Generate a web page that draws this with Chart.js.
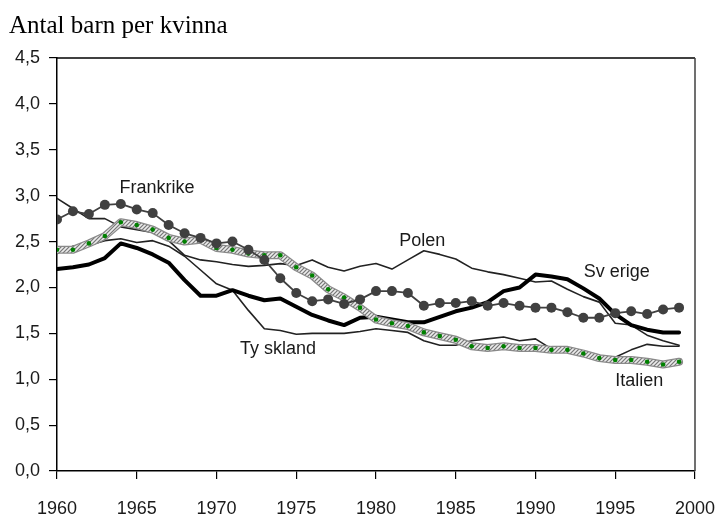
<!DOCTYPE html>
<html>
<head>
<meta charset="utf-8">
<script src="https://cdn.jsdelivr.net/npm/chart.js@4.4.1/dist/chart.umd.min.js"></script>
<style>
  html, body { margin: 0; padding: 0; background: #fff; }
  #wrap { position: relative; width: 716px; height: 519px; }
</style>
</head>
<body>
<div id="wrap"><canvas id="c" width="716" height="519"></canvas></div>
<script>
const title = "Antal barn per kvinna";
const years = [1960,1961,1962,1963,1964,1965,1966,1967,1968,1969,
               1970,1971,1972,1973,1974,1975,1976,1977,1978,1979,
               1980,1981,1982,1983,1984,1985,1986,1987,1988,1989,
               1990,1991,1992,1993,1994,1995,1996,1997,1998,1999];
const frankrike = [2.74,2.83,2.80,2.90,2.91,2.85,2.81,2.68,2.59,2.54,
                   2.48,2.50,2.41,2.30,2.10,1.94,1.85,1.87,1.82,1.87,
                   1.96,1.96,1.94,1.80,1.83,1.83,1.85,1.80,1.83,1.80,
                   1.78,1.78,1.73,1.67,1.67,1.72,1.74,1.71,1.76,1.78];
const italien = [2.41,2.41,2.48,2.56,2.71,2.68,2.63,2.54,2.50,2.52,
                 2.43,2.41,2.37,2.35,2.35,2.22,2.13,1.98,1.89,1.78,
                 1.65,1.61,1.58,1.51,1.47,1.43,1.36,1.34,1.36,1.34,
                 1.34,1.32,1.32,1.28,1.23,1.21,1.21,1.19,1.16,1.19];
const sverige = [2.20,2.22,2.25,2.32,2.48,2.43,2.36,2.27,2.08,1.91,
                 1.91,1.97,1.91,1.86,1.88,1.79,1.70,1.64,1.59,1.67,
                 1.68,1.65,1.62,1.62,1.68,1.74,1.78,1.84,1.96,2.00,
                 2.14,2.12,2.09,1.99,1.88,1.71,1.59,1.54,1.51,1.51];
const polen = [2.97,2.86,2.75,2.75,2.66,2.63,2.60,2.51,2.35,2.30,
               2.28,2.25,2.23,2.24,2.26,2.24,2.30,2.22,2.18,2.23,
               2.26,2.20,2.30,2.40,2.36,2.31,2.21,2.17,2.14,2.10,
               2.06,2.07,1.98,1.90,1.84,1.61,1.59,1.48,1.42,1.37];
const tyskland = [2.37,2.45,2.46,2.51,2.53,2.49,2.51,2.45,2.34,2.19,
                  2.04,1.97,1.75,1.55,1.53,1.49,1.50,1.50,1.50,1.52,
                  1.55,1.53,1.51,1.42,1.37,1.37,1.42,1.44,1.46,1.42,
                  1.44,1.33,1.32,1.30,1.24,1.24,1.32,1.38,1.36,1.36];
const xTicks = [1960,1965,1970,1975,1980,1985,1990,1995,2000];
const yTicks = [0,0.5,1,1.5,2,2.5,3,3.5,4,4.5];

const seriesLabels = [
  {text: "Frankrike", x: 1966.27, y: 3.03},
  {text: "Polen", x: 1982.9, y: 2.45},
  {text: "Sv erige", x: 1995.1, y: 2.11},
  {text: "Ty skland", x: 1973.86, y: 1.28},
  {text: "Italien", x: 1996.5, y: 0.93}
];

function pts(vals) { return years.map((y, i) => ({x: y, y: vals[i]})); }

// hatched pattern for Italien band
const pc = document.createElement('canvas');
pc.width = 4; pc.height = 4;
const px = pc.getContext('2d');
px.fillStyle = '#c4c4c4';
px.fillRect(0, 0, 4, 4);
px.fillStyle = '#7a7a7a';
for (let i = 0; i < 4; i++) { px.fillRect(i, 3 - i, 1, 1); }
px.fillStyle = '#ececec';
for (let i = 0; i < 4; i++) { px.fillRect(i, (5 - i) % 4, 1, 1); }
const ctx0 = document.getElementById('c').getContext('2d');
const hatch = ctx0.createPattern(pc, 'repeat');

const frame = {
  id: 'frame',
  afterDatasetsDraw(chart) {
    const {ctx, chartArea: a, scales} = chart;
    ctx.save();
    ctx.lineWidth = 1.5;
    ctx.strokeStyle = '#000';
    ctx.beginPath(); ctx.moveTo(a.left, a.top); ctx.lineTo(a.right, a.top); ctx.stroke();
    ctx.strokeStyle = '#404040';
    ctx.beginPath(); ctx.moveTo(a.right, a.top); ctx.lineTo(a.right, a.bottom); ctx.stroke();
    ctx.fillStyle = '#1a1a1a';
    ctx.font = '18px "Liberation Sans", Arial, sans-serif';
    ctx.textAlign = 'center';
    ctx.textBaseline = 'alphabetic';
    seriesLabels.forEach(l => {
      ctx.fillText(l.text, scales.x.getPixelForValue(l.x), scales.y.getPixelForValue(l.y));
    });
    ctx.fillStyle = '#000';
    ctx.font = '25px "Liberation Serif", "Times New Roman", serif';
    ctx.textAlign = 'left';
    ctx.fillText(title, 9, 33);
    ctx.restore();
  }
};

new Chart(ctx0, {
  type: 'line',
  data: {
    datasets: [
      {label: 'Frankrike', data: pts(frankrike), borderColor: '#404040', borderWidth: 1.8,
       pointRadius: 5, pointBackgroundColor: '#404040', pointBorderColor: '#404040', pointBorderWidth: 0},
      {label: 'Italien', data: pts(italien), borderColor: hatch, borderWidth: 5.5,
       pointRadius: 2.3, pointBackgroundColor: '#008000', pointBorderWidth: 0},
      {label: 'Italien kant', data: pts(italien), borderColor: '#8a8a8a', borderWidth: 8, pointRadius: 0},
      {label: 'Sverige', data: pts(sverige), borderColor: '#000', borderWidth: 4, pointRadius: 0},
      {label: 'Tyskland', data: pts(tyskland), borderColor: '#222', borderWidth: 1.6, pointRadius: 0},
      {label: 'Polen', data: pts(polen), borderColor: '#222', borderWidth: 1.6, pointRadius: 0}
    ]
  },
  options: {
    responsive: false,
    animation: false,
    events: [],
    layout: {padding: {top: 58, right: 21, left: 0, bottom: 0}},
    elements: {line: {tension: 0, borderJoinStyle: 'round', borderCapStyle: 'round'}},
    plugins: {legend: {display: false}, tooltip: {enabled: false}, title: {display: false}},
    scales: {
      x: {
        type: 'linear', min: 1960, max: 2000,
        afterFit(s) { s.height = 48; s.paddingLeft = 0; s.paddingRight = 0; },
        afterBuildTicks(s) { s.ticks = xTicks.map(v => ({value: v})); },
        ticks: {color: '#1a1a1a', font: {family: '"Liberation Sans", Arial, sans-serif', size: 18},
                padding: 19, maxRotation: 0, autoSkip: false, callback: v => String(v)},
        grid: {drawOnChartArea: false, drawTicks: true, tickLength: 8, color: '#000', lineWidth: 1.2},
        border: {color: '#000', width: 1.5}
      },
      y: {
        type: 'linear', min: 0, max: 4.5,
        afterFit(s) { s.width = 57; s.paddingTop = 0; s.paddingBottom = 0; },
        afterBuildTicks(s) { s.ticks = yTicks.map(v => ({value: v})); },
        ticks: {color: '#1a1a1a', font: {family: '"Liberation Sans", Arial, sans-serif', size: 18},
                padding: 9, callback: v => v.toFixed(1).replace('.', ',')},
        grid: {drawOnChartArea: false, drawTicks: true, tickLength: 8, color: '#000', lineWidth: 1.2},
        border: {color: '#000', width: 1.5}
      }
    }
  },
  plugins: [frame]
});
</script>
</body>
</html>
